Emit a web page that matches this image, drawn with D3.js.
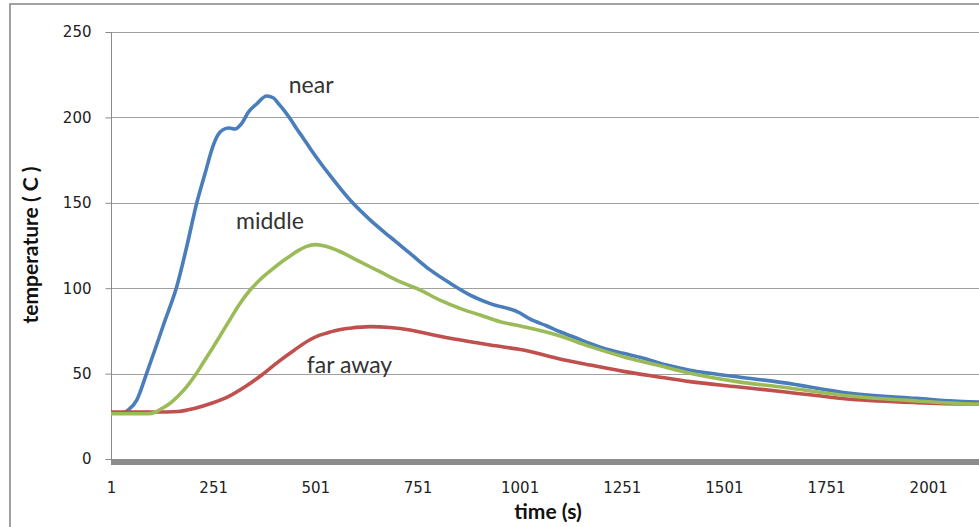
<!DOCTYPE html>
<html>
<head>
<meta charset="utf-8">
<script src="https://cdn.jsdelivr.net/npm/d3@7"></script>
<style>
  html, body { margin: 0; padding: 0; background: #ffffff; }
  svg { display: block; }
</style>
</head>
<body>
<svg id="chart" width="979" height="527"></svg>
<script>
// ---------------- data ----------------
const nearTime = [1, 30, 45, 64, 88, 110, 133, 162, 186, 211, 231, 251, 262, 275, 290, 304, 321, 337, 358, 382, 398, 411, 425, 440, 455, 472, 488, 537, 586, 635, 684, 733, 782, 831, 880, 929, 1002, 1026, 1067, 1100, 1141, 1173, 1222, 1255, 1304, 1361, 1418, 1467, 1537, 1646, 1810, 1973, 2103, 2250];
const nearTemp = [27, 27, 29, 34.5, 50, 65, 81, 101, 124, 150, 167, 183.5, 189.5, 192.8, 193.8, 193.2, 196.5, 203, 208, 212.5, 211.5, 208, 204, 199, 193.5, 187.7, 182, 166, 151.6, 140, 130, 120.4, 110.7, 102.9, 96, 91, 85.5, 82, 78, 74.5, 70.7, 67.7, 63.8, 61.9, 59, 55, 52, 50.2, 48, 44.7, 38.5, 35.5, 33.5, 33];

const middleTime = [1, 92, 110, 125, 145, 166, 187, 207, 227, 247, 288, 315, 340, 365, 390, 419, 440, 459, 480, 500, 521, 561, 610, 659, 708, 757, 806, 855, 904, 953, 1010, 1092, 1174, 1255, 1337, 1418, 1533, 1646, 1810, 1973, 2120, 2250];
const middleTemp = [26.5, 26.5, 27.5, 29.5, 32.5, 37, 42.5, 49, 56.5, 64, 80, 90.5, 98.5, 104.8, 110, 115.5, 119, 122, 124.5, 125.5, 124.8, 121.5, 115.5, 109.7, 103.8, 99, 93, 88.2, 84.3, 80.4, 77.5, 72.6, 65.8, 59.9, 55, 50.2, 45.3, 42, 36.9, 34, 32.2, 32];

const farTime = [1, 109, 166, 207, 247, 288, 329, 370, 411, 451, 488, 512, 537, 560, 586, 635, 684, 733, 782, 831, 880, 929, 1010, 1092, 1174, 1255, 1337, 1418, 1533, 1646, 1810, 1973, 2103, 2250];
const farTemp = [27.5, 27.5, 27.8, 29.7, 32.6, 36.5, 42.3, 49.2, 57, 64, 69.8, 72.5, 74.3, 75.7, 76.6, 77.5, 77, 75.5, 73, 70.7, 68.7, 66.7, 63.8, 59, 55, 51.3, 48.2, 45.3, 42.3, 39.4, 35, 33, 32.2, 32];

const seriesNames = ["near", "far away", "middle"];
const seriesColors = ["#4a7ebb", "#c0504d", "#9bbb59"];
const xTickLabels = [1, 251, 501, 751, 1001, 1251, 1501, 1751, 2001];
const yTickLabels = [0, 50, 100, 150, 200, 250];
const xTitle = "time (s)";
const yTitle = "temperature ( C )";

// ---------------- drawing ----------------
const svg = d3.select("#chart");

const x = d3.scaleLinear().domain([1, 2251]).range([111, 111 + 2250 * 0.4086]);
const y = d3.scaleLinear().domain([0, 250]).range([459, 32]);

// outer chart border (continues past the visible area)
svg.append("rect")
  .attr("x", 10).attr("y", 4)
  .attr("width", 1200).attr("height", 700)
  .attr("fill", "none")
  .attr("stroke", "#8a8a8a")
  .attr("stroke-width", 1.6);

// gridlines
svg.append("g")
  .selectAll("line")
  .data(yTickLabels.filter(d => d > 0))
  .join("line")
  .attr("x1", 111).attr("x2", 1200)
  .attr("y1", d => Math.round(y(d)) + 0.5)
  .attr("y2", d => Math.round(y(d)) + 0.5)
  .attr("stroke", "#a0a0a0")
  .attr("stroke-width", 1);

// y axis
const yAxis = d3.axisLeft(y).tickValues(yTickLabels).tickSize(6).tickPadding(14);
const gy = svg.append("g").attr("transform", "translate(111.5,0)").call(yAxis);
gy.select(".domain").attr("stroke", "#8a8a8a").attr("d", "M0," + y(250) + "V" + y(0));
gy.selectAll(".tick line").attr("stroke", "#8a8a8a");
gy.selectAll(".tick text")
  .attr("fill", "#222")
  .style("font-family", "'DejaVu Sans', sans-serif")
  .style("font-size", "15px");

// x axis (thick grey bar, labels only)
const xAxis = d3.axisBottom(x).tickValues(xTickLabels).tickSize(0).tickPadding(0)
  .tickFormat(d3.format("d"));
const gx = svg.append("g").attr("transform", "translate(0,459)").call(xAxis);
gx.select(".domain").remove();
gx.selectAll(".tick text")
  .attr("y", 34)
  .attr("dy", "0")
  .attr("fill", "#222")
  .style("font-family", "'DejaVu Sans', sans-serif")
  .style("font-size", "15px");
svg.append("line")
  .attr("x1", 111).attr("x2", 1200)
  .attr("y1", 462).attr("y2", 462)
  .attr("stroke", "#8c8c8c")
  .attr("stroke-width", 6);

// series lines
const clip = svg.append("defs").append("clipPath").attr("id", "plotclip");
clip.append("rect").attr("x", 111).attr("y", 20).attr("width", 1000).attr("height", 442);

const seriesData = [
  nearTime.map((t, i) => [t, nearTemp[i]]),
  farTime.map((t, i) => [t, farTemp[i]]),
  middleTime.map((t, i) => [t, middleTemp[i]])
];
const line = d3.line()
  .x(d => x(d[0]))
  .y(d => y(d[1]))
  .curve(d3.curveMonotoneX);

svg.append("g").attr("clip-path", "url(#plotclip)")
  .selectAll("path")
  .data(seriesData)
  .join("path")
  .attr("d", line)
  .attr("fill", "none")
  .attr("stroke", (d, i) => seriesColors[i])
  .attr("stroke-width", 3.6)
  .attr("stroke-linejoin", "round")
  .attr("stroke-linecap", "round");

// series labels
const labelPos = [
  { name: seriesNames[0], t: 436, v: 214 },
  { name: seriesNames[2], t: 307, v: 134.5 },
  { name: seriesNames[1], t: 480, v: 50.5 }
];
svg.append("g")
  .selectAll("text")
  .data(labelPos)
  .join("text")
  .attr("x", d => x(d.t))
  .attr("y", d => y(d.v))
  .attr("fill", "#333")
  .style("font-family", "Lato, sans-serif")
  .style("font-size", "23px")
  .text(d => d.name);

// axis titles
svg.append("text")
  .attr("x", 548).attr("y", 519)
  .attr("text-anchor", "middle")
  .attr("fill", "#111")
  .style("font-family", "Lato, sans-serif")
  .style("font-weight", "bold")
  .style("font-size", "21px")
  .text(xTitle);

svg.append("text")
  .attr("transform", "translate(38,245) rotate(-90)")
  .attr("text-anchor", "middle")
  .attr("fill", "#111")
  .style("font-family", "Lato, sans-serif")
  .style("font-weight", "bold")
  .style("font-size", "21px")
  .text(yTitle);
</script>
</body>
</html>
